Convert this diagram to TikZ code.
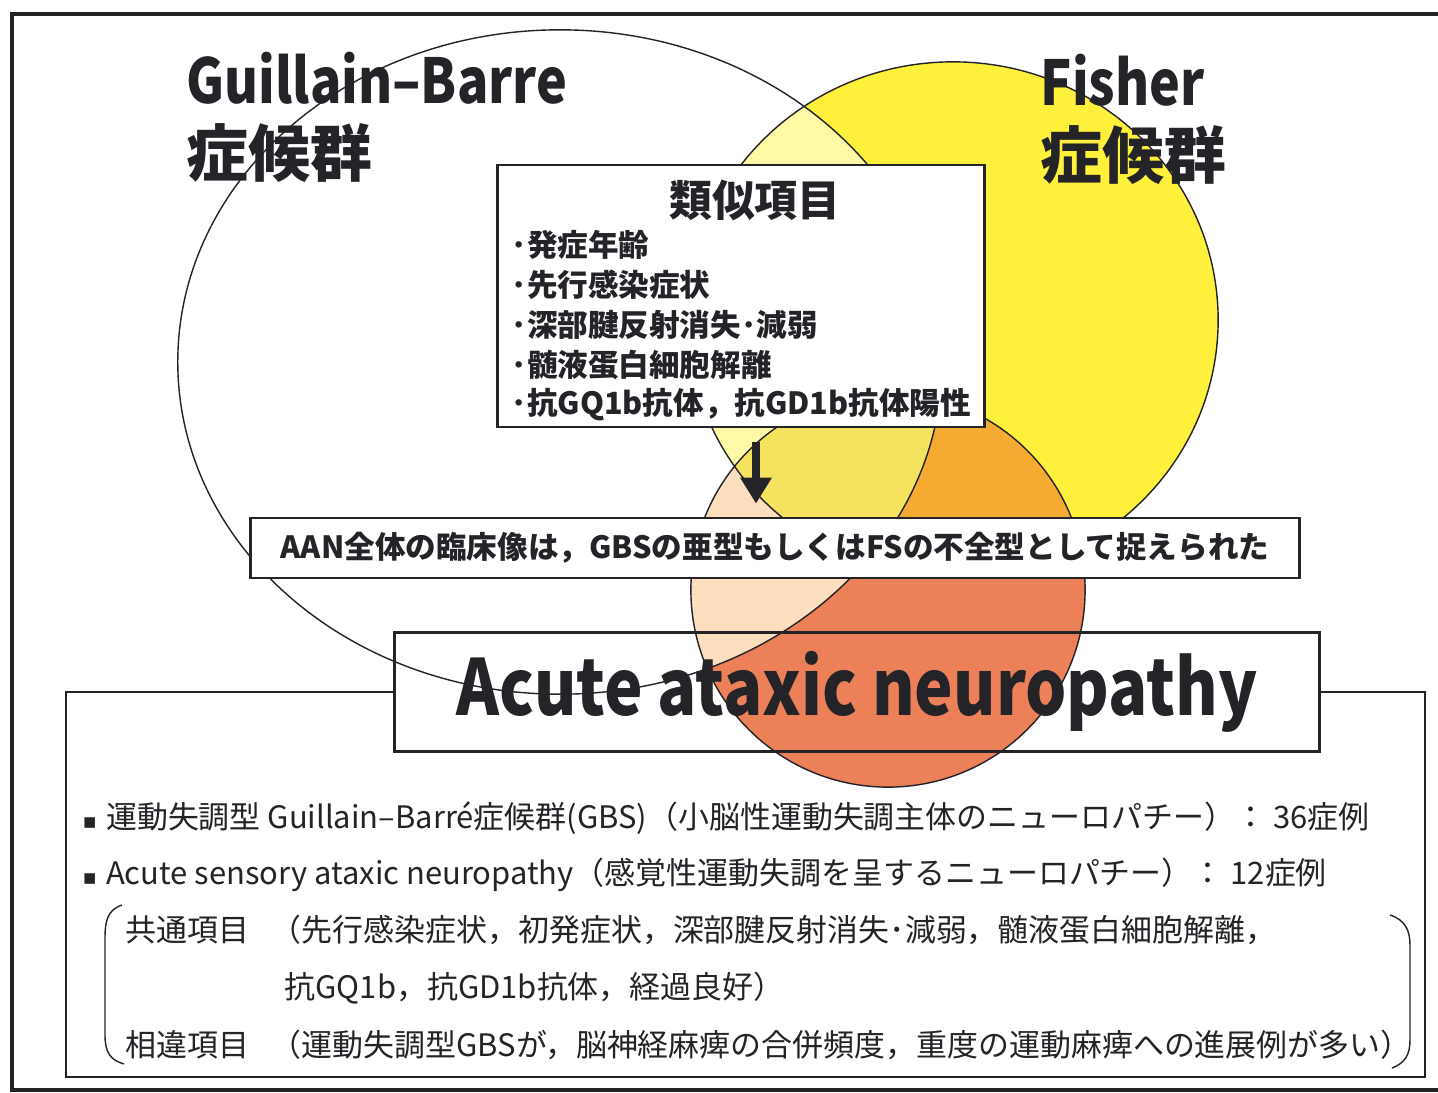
\documentclass[tikz,border=0pt]{standalone}
\usepackage{fontspec}
\setmainfont{Noto Sans CJK JP}
\newfontfamily\symfont{DejaVu Sans}
\usetikzlibrary{arrows.meta}

\definecolor{fsyellow}{RGB}{255,240,60}
\definecolor{palelemon}{RGB}{255,250,165}
\definecolor{aansalmon}{RGB}{236,128,88}
\definecolor{peach}{RGB}{250,222,190}
\definecolor{fsorange}{RGB}{245,170,50}
\definecolor{mixyellow}{RGB}{245,226,95}
\definecolor{ink}{RGB}{35,35,40}

\newcommand{\gbsshape}{(560,362) ellipse (3.82cm and 3.32cm)}
\newcommand{\fsshape}{(953,320) ellipse (2.65cm and 2.58cm)}
\newcommand{\aanshape}{(888,590) circle (1.97cm)}
\newcommand{\narrow}[1]{\scalebox{0.84}[1]{#1}}
\newcommand{\sqbullet}{{\symfont\fontsize{6}{6}\selectfont ▪}\hspace{2.6pt}}

\begin{document}
\begin{tikzpicture}[x=0.01cm,y=-0.01cm,
    every node/.style={text=ink,inner sep=0pt},
    bigtitle/.style={font=\fontsize{17.6}{20}\selectfont\bfseries,anchor=west},
    simitem/.style={font=\fontsize{8.7}{10}\selectfont\bfseries,anchor=west},
    bodyline/.style={font=\fontsize{8.8}{10}\selectfont,anchor=west},
    box/.style={draw=ink,thick,fill=white},
    bigarrow/.style={-{Triangle[width=0.3cm,length=0.26cm]},line width=0.08cm,ink}]
  \useasboundingbox (0,0) rectangle (1438,1093);
  \draw[ink,very thick] (1438,14) -- (12,14) -- (12,1090) -- (1438,1090);

  % overlapping syndromes
  \fill[fsyellow] \fsshape;
  \fill[aansalmon] \aanshape;
  \begin{scope}
    \clip \fsshape;
    \fill[fsorange] \aanshape;
  \end{scope}
  \begin{scope}
    \clip \gbsshape;
    \fill[palelemon] \fsshape;
    \fill[peach] \aanshape;
    \clip \fsshape;
    \fill[mixyellow] \aanshape;
  \end{scope}
  \draw[ink,thin] \gbsshape \fsshape \aanshape;

  \node[bigtitle] (gbsname) at (186,78) {\narrow{Guillain–Barre}};
  \node[bigtitle] (gbssyn) at (186,153) {症候群};
  \node[bigtitle] (fsname) at (1040,80) {\narrow{Fisher}};
  \node[bigtitle] (fssyn) at (1040,155) {症候群};

  % similar items
  \node[box,minimum width=4.86cm,minimum height=2.62cm] (sim) at (741,296) {};
  \node[font=\fontsize{12.2}{14}\selectfont\bfseries] (simtitle) at (755,200) {類似項目};
  \foreach \t [count=\i] in {発症年齢,先行感染症状,深部腱反射消失･減弱,髄液蛋白細胞解離,抗GQ1b抗体，抗GD1b抗体陽性}
    \node[simitem] (item\i) at (511,205+40*\i) {･\t};

  \node[box,minimum width=10.49cm,minimum height=0.6cm,font=\fontsize{8.7}{10}\selectfont\bfseries] (aan) at (775,548)
    {AAN全体の臨床像は，GBSの亜型もしくはFSの不全型として捉えられた};
  \coordinate (ax) at (756,0);
  \draw[bigarrow,shorten <=0.13cm,shorten >=0.13cm] (sim.south -| ax) -- (aan.north -| ax);

  \node[draw=ink,thick,minimum width=9.25cm,minimum height=1.19cm,font=\fontsize{22}{24}\selectfont\bfseries] (acute) at (857,692)
    {\narrow{Acute ataxic neuropathy}};
  \coordinate (sw) at (66,1077);
  \coordinate (ne) at (1425,692);
  \draw[ink,thick] (acute.west) -| (sw) -| (ne) -- (acute.east);

  % case summary
  \node[bodyline] (gbsline) at (82,818) {\sqbullet 運動失調型 Guillain–Barré症候群(GBS)（小脳性運動失調主体のニューロパチー）： 36症例};
  \node[bodyline] (asanline) at (82,875) {\sqbullet Acute sensory ataxic neuropathy（感覚性運動失調を呈するニューロパチー）： 12症例};
  \node[bodyline] (common) at (125,930) {共通項目};
  \node[bodyline] (commonbody) at (270,930) {（先行感染症状，初発症状，深部腱反射消失･減弱，髄液蛋白細胞解離，};
  \node[bodyline] (commonbody2) at (284,988) {抗GQ1b，抗GD1b抗体，経過良好）};
  \node[bodyline] (differ) at (125,1045) {相違項目};
  \node[bodyline] (differbody) at (270,1045) {（運動失調型GBSが，脳神経麻痺の合併頻度，重度の運動麻痺への進展例が多い）};

  \draw[ink,thin] (122,905) .. controls (107,910) and (105,922) .. (105,938) -- (105,1035) .. controls (105,1052) and (110,1060) .. (124,1064);
  \draw[ink,thin] (1390,915) .. controls (1405,920) and (1410,930) .. (1410,945) -- (1410,1040) .. controls (1410,1055) and (1405,1063) .. (1392,1068);
\end{tikzpicture}
\end{document}
